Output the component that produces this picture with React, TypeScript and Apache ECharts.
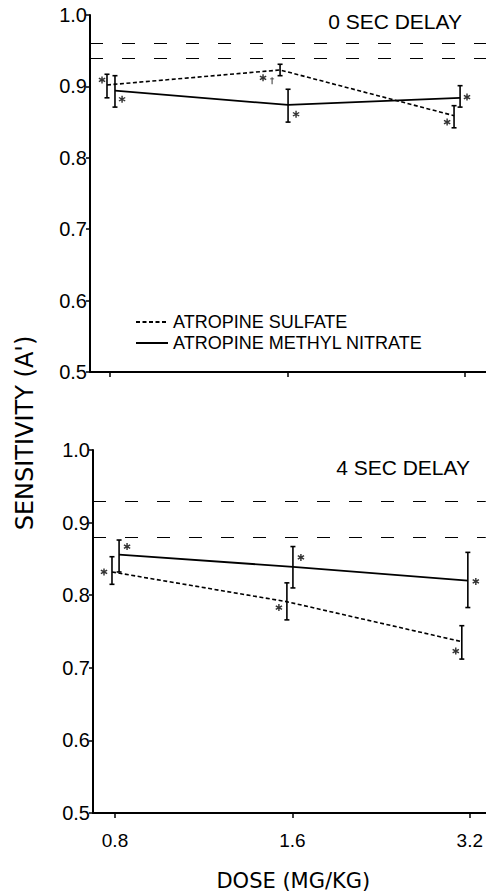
import React, { useEffect, useRef } from "react";
import * as echarts from "echarts";

// Dose levels (log2 spacing: index 0,1,2)
const doseLabels = ["0.8", "1.6", "3.2"];
const doseTicks = [0, 1, 2];

// 0 SEC DELAY panel
const sulfateX0 = [-0.017, 0.958, 1.938];
const sulfate0 = [0.902, 0.923, 0.859];
const sulfate0Lo = [0.884, 0.915, 0.842];
const sulfate0Hi = [0.917, 0.931, 0.873];
const nitrateX0 = [0.028, 1.003, 1.972];
const nitrate0 = [0.894, 0.874, 0.884];
const nitrate0Lo = [0.871, 0.85, 0.871];
const nitrate0Hi = [0.915, 0.896, 0.901];
const ref0 = [0.957, 0.941];
const stars0 = [
  [-0.045, 0.909],
  [0.068, 0.882],
  [0.862, 0.912],
  [1.048, 0.861],
  [1.899, 0.85],
  [2.011, 0.885],
];
const dagger0 = [[0.913, 0.908]];

// 4 SEC DELAY panel
const sulfateX4 = [-0.017, 0.969, 1.955];
const sulfate4 = [0.832, 0.791, 0.736];
const sulfate4Lo = [0.815, 0.766, 0.712];
const sulfate4Hi = [0.853, 0.817, 0.758];
const nitrateX4 = [0.023, 1.003, 1.989];
const nitrate4 = [0.856, 0.839, 0.82];
const nitrate4Lo = [0.832, 0.81, 0.783];
const nitrate4Hi = [0.876, 0.867, 0.859];
const ref4 = [0.929, 0.882];
const stars4 = [
  [-0.062, 0.832],
  [0.068, 0.867],
  [0.924, 0.783],
  [1.048, 0.852],
  [1.921, 0.723],
  [2.034, 0.819],
];

const yTicks = ["0.5", "0.6", "0.7", "0.8", "0.9", "1.0"];

const SULFATE = "ATROPINE SULFATE";
const NITRATE = "ATROPINE METHYL NITRATE";

const starPath =
  "path://M-1,-5L1,-5L1,5L-1,5Z M3.83,-3.366L4.83,-1.634L-3.83,3.366L-4.83,1.634Z M-4.83,-1.634L-3.83,-3.366L4.83,1.634L3.83,3.366Z";
const daggerPath =
  "path://M-0.5,-4L0.5,-4L0.5,4L-0.5,4Z M-2,-2.6L2,-2.6L2,-1.7L-2,-1.7Z";

const FONT = "'Liberation Sans', Arial, sans-serif";
const WIDE = "'DejaVu Sans', sans-serif";

function App() {
  const ref = useRef<HTMLDivElement>(null);
  useEffect(() => {
    document.body.style.margin = "0";
    if (!ref.current) return;
    const chart = echarts.init(ref.current, null, { renderer: "svg" });

    const errBar = (xs: number[], lo: number[], hi: number[], gi: number) => ({
      type: "custom",
      xAxisIndex: gi,
      yAxisIndex: gi,
      silent: true,
      z: 3,
      data: xs.map((x, i) => [x, lo[i], hi[i]]),
      encode: { x: 0, y: [1, 2] },
      renderItem: (params: any, api: any) => {
        const x = api.value(0);
        const p1 = api.coord([x, api.value(1)]);
        const p2 = api.coord([x, api.value(2)]);
        const hw = 2.5;
        const st = { stroke: "#000", lineWidth: 1.6 };
        return {
          type: "group",
          children: [
            { type: "line", shape: { x1: p1[0], y1: p1[1], x2: p2[0], y2: p2[1] }, style: st },
            { type: "line", shape: { x1: p1[0] - hw, y1: p1[1], x2: p1[0] + hw, y2: p1[1] }, style: st },
            { type: "line", shape: { x1: p2[0] - hw, y1: p2[1], x2: p2[0] + hw, y2: p2[1] }, style: st },
          ],
        };
      },
    });

    const refLines = (vals: number[]) => ({
      silent: true,
      symbol: "none",
      label: { show: false },
      lineStyle: { color: "#000", width: 1, type: [13, 19] },
      data: vals.map((v) => ({ yAxis: v })),
    });

    const lineSeries = (name: string, xs: number[], ys: number[], gi: number, dashed: boolean, extra?: any) => ({
      name,
      type: "line",
      xAxisIndex: gi,
      yAxisIndex: gi,
      data: xs.map((x, i) => [x, ys[i]]),
      symbol: "none",
      showSymbol: false,
      silent: true,
      z: 4,
      lineStyle: dashed
        ? { color: "#000", width: 1.6, type: [4, 2.5] }
        : { color: "#000", width: 1.8, type: "solid" },
      itemStyle: { color: "#000" },
      ...(extra || {}),
    });

    const stars = (pts: number[][], gi: number, path: string, size: any) => ({
      type: "scatter",
      xAxisIndex: gi,
      yAxisIndex: gi,
      data: pts,
      symbol: path,
      symbolSize: size,
      itemStyle: { color: "#000" },
      silent: true,
      z: 5,
    });

    const xAxisBase = (gi: number, min: number, max: number, showLabels: boolean) => ({
      type: "value",
      gridIndex: gi,
      min,
      max,
      axisLine: { show: true, onZero: false, lineStyle: { color: "#000", width: 2 } },
      axisTick: {
        show: true,
        customValues: doseTicks,
        length: 5,
        lineStyle: { color: "#000", width: 1.5 },
      },
      axisLabel: {
        show: showLabels,
        customValues: doseTicks,
        formatter: (v: number) => doseLabels[Math.round(v)] ?? "",
        color: "#000",
        fontFamily: FONT,
        fontSize: 19,
        margin: 18,
      },
      splitLine: { show: false },
    });

    const yAxisBase = (gi: number) => ({
      type: "value",
      gridIndex: gi,
      min: 0.5,
      max: 1.0,
      interval: 0.1,
      axisLine: { show: true, onZero: false, lineStyle: { color: "#000", width: 2 } },
      axisTick: { show: true, length: 4, lineStyle: { color: "#000", width: 1.5 } },
      axisLabel: {
        color: "#000",
        fontFamily: FONT,
        fontSize: 20,
        margin: 3,
        formatter: (v: number) => yTicks[Math.round((v - 0.5) * 10)] ?? "",
      },
      splitLine: { show: false },
    });

    const xBottom: any = xAxisBase(1, -0.124, 2.09, true);
    xBottom.name = "DOSE (MG/KG)";
    xBottom.nameLocation = "middle";
    xBottom.nameGap = 57;
    xBottom.nameTextStyle = { color: "#000", fontFamily: WIDE, fontSize: 21, padding: [0, 0, 0, 8] };

    const option: any = {
      animation: false,
      backgroundColor: "#fff",
      grid: [
        { left: 90, top: 15, right: 0, height: 357 },
        { left: 93, top: 450, right: 0, height: 364 },
      ],
      xAxis: [xAxisBase(0, -0.1127, 2.118, false), xBottom],
      yAxis: [yAxisBase(0), yAxisBase(1)],
      legend: {
        left: 130,
        top: 308,
        orient: "vertical",
        selectedMode: false,
        itemWidth: 32,
        itemHeight: 14,
        itemGap: 3,
        data: [SULFATE, NITRATE],
        itemStyle: { color: "transparent", borderColor: "transparent", borderWidth: 0 },
        textStyle: { color: "#000", fontFamily: FONT, fontSize: 18, lineHeight: 18 },
      },
      graphic: [
        {
          type: "text",
          x: 462,
          y: 21,
          style: { text: "0 SEC DELAY", fill: "#000", font: `21px ${FONT}`, align: "right", verticalAlign: "middle" },
        },
        {
          type: "text",
          x: 470,
          y: 467,
          style: { text: "4 SEC DELAY", fill: "#000", font: `21px ${FONT}`, align: "right", verticalAlign: "middle" },
        },
        {
          type: "text",
          x: 25,
          y: 433,
          rotation: Math.PI / 2,
          style: { text: "SENSITIVITY (A')", fill: "#000", font: `24px ${WIDE}`, align: "center", verticalAlign: "middle" },
        },
      ],
      series: [
        lineSeries(SULFATE, sulfateX0, sulfate0, 0, true, { markLine: refLines(ref0) }),
        lineSeries(NITRATE, nitrateX0, nitrate0, 0, false),
        errBar(sulfateX0, sulfate0Lo, sulfate0Hi, 0),
        errBar(nitrateX0, nitrate0Lo, nitrate0Hi, 0),
        stars(stars0, 0, starPath, 7),
        stars(dagger0, 0, daggerPath, [4, 7]),
        lineSeries(SULFATE, sulfateX4, sulfate4, 1, true, { markLine: refLines(ref4) }),
        lineSeries(NITRATE, nitrateX4, nitrate4, 1, false),
        errBar(sulfateX4, sulfate4Lo, sulfate4Hi, 1),
        errBar(nitrateX4, nitrate4Lo, nitrate4Hi, 1),
        stars(stars4, 1, starPath, 7),
      ],
    };
    chart.setOption(option);
    return () => chart.dispose();
  }, []);
  return <div ref={ref} style={{ width: 486, height: 892 }} />;
}

export default App;
